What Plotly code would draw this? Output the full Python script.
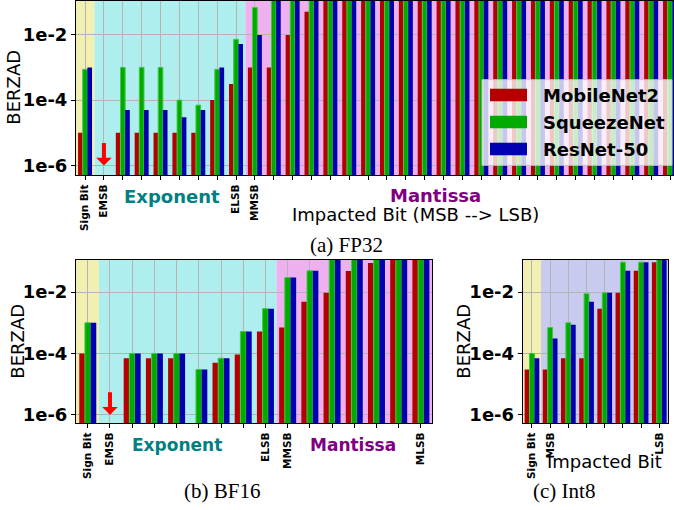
import plotly.graph_objects as go

W, H = 674, 510

series_names = ["MobileNet2", "SqueezeNet", "ResNet-50"]
series_colors = ["#B30000", "#00AA00", "#0000B0"]

FULL = 0.5  # bars clipped at the top of the axes

# ---- FP32 (32 bits) ----
fp32_ticks = {0: "Sign Bit", 1: "EMSB", 8: "ELSB", 9: "MMSB", 31: "MLSB"}
fp32_mobilenet = [1e-5, None, 1e-5, 1e-5, 1e-5, 1e-5, 1e-5, 1e-4, 3.1e-4, 1e-3, 1e-3, 9.7e-3, 5e-2] + [FULL] * 19
fp32_squeezenet = [8.7e-4, None, 1e-3, 1e-3, 1e-3, 1e-4, 7e-5, 8.7e-4, 7.2e-3, 6.8e-2] + [FULL] * 22
fp32_resnet = [1e-3, None, 5e-5, 5e-5, 5e-5, 3e-5, 5e-5, 1e-3, 5.2e-3, 9.8e-3] + [FULL] * 22

# ---- BF16 (16 bits) ----
bf16_ticks = {0: "Sign Bit", 1: "EMSB", 8: "ELSB", 9: "MMSB", 15: "MLSB"}
bf16_mobilenet = [1e-4, None, 7e-5, 7e-5, 7e-5, None, 5e-5, 9.3e-5, 5.2e-4, 7e-4, 4.9e-3, 9.5e-3, 4.9e-2, 9e-2, FULL, FULL]
bf16_squeezenet = [1e-3, None, 1e-4, 1e-4, 1e-4, 3e-5, 7e-5, 5.2e-4, 2.9e-3, 3e-2, 5e-2, FULL, FULL, FULL, FULL, FULL]
bf16_resnet = [1e-3, None, 1e-4, 1e-4, 1e-4, 3e-5, 7e-5, 5.2e-4, 2.9e-3, 3e-2, 5e-2, FULL, FULL, FULL, FULL, FULL]

# ---- Int8 (8 bits) ----
int8_ticks = {0: "Sign Bit", 1: "MSB", 7: "LSB"}
int8_mobilenet = [3e-5, 3e-5, 7e-5, 7e-5, 2.9e-3, 9.5e-3, 5e-2, 9.5e-2]
int8_squeezenet = [1e-4, 7e-4, 1e-3, 8.9e-3, 9.5e-3, 9.5e-2, 9.5e-2, FULL]
int8_resnet = [7e-5, 3.1e-4, 8.7e-4, 4.9e-3, 9.5e-3, 5e-2, 9.5e-2, FULL]

y_tickvals = [1e-6, 1e-4, 1e-2]
y_ticktext = ["1e-6", "1e-4", "1e-2"]

YELLOW = "#F2F0B0"
CYAN = "#AEEEEE"
MAGENTA = "#EEB0EE"
LAVENDER = "#C9CAF0"


def px(x):
    return x / W


def py(y):
    return 1 - y / H


fig = go.Figure()

panels = [
    # (axis suffix, data, ticks, bar width, x domain px, y domain px, x range)
    ("", [fp32_mobilenet, fp32_squeezenet, fp32_resnet], fp32_ticks, 0.247, (76, 674), (1, 176), [-0.48, 31.21]),
    ("2", [bf16_mobilenet, bf16_squeezenet, bf16_resnet], bf16_ticks, 0.255, (76, 432), (261, 425), [-0.53, 15.5]),
    ("3", [int8_mobilenet, int8_squeezenet, int8_resnet], int8_ticks, 0.27, (522.7, 668), (261, 425), [-0.51, 7.48]),
]

layout_axes = {}
for suf, data, ticks, bw, xd, yd, xr in panels:
    n = len(data[0])
    xs = list(range(n))
    for k, (vals, name, col) in enumerate(zip(data, series_names, series_colors)):
        fig.add_trace(go.Bar(
            x=xs, y=vals, name=name, width=bw, offset=(k - 1.5) * bw,
            marker=dict(color=col, line=dict(width=1 if k == 1 else 0, color="#44C844")),
            xaxis="x" + suf, yaxis="y" + suf, showlegend=False,
        ))
    layout_axes["xaxis" + suf] = dict(
        domain=[px(xd[0]), px(xd[1])], range=xr, anchor="y" + suf,
        tickmode="array", tickvals=xs, ticktext=[ticks.get(i, "") for i in xs],
        tickangle=-90, tickfont=dict(family="DejaVu Sans", size=10.5, color="black", weight="bold"),
        ticks="outside", ticklen=4, tickcolor="black",
        showgrid=True, gridcolor="#B4B4B4", gridwidth=1,
        showline=True, linecolor="black", linewidth=1, mirror=True, zeroline=False,
    )
    layout_axes["yaxis" + suf] = dict(
        domain=[py(yd[1]), py(yd[0])], type="log",
        range=[-6.3, -0.97] if suf == "" else [-6.28, -0.95], anchor="x" + suf,
        tickmode="array", tickvals=y_tickvals, ticktext=y_ticktext,
        tickfont=dict(family="DejaVu Sans", size=18, color="black", weight="bold"),
        ticks="outside", ticklen=4, tickcolor="black",
        showgrid=True, gridcolor="#B4B4B4", gridwidth=1,
        showline=True, linecolor="black", linewidth=1, mirror=(suf != ""), zeroline=False,
    )

shapes = []


def band(xa, ya, x0, x1, color):
    shapes.append(dict(type="rect", xref=xa, yref=ya + " domain", x0=x0, x1=x1, y0=0, y1=1,
                       fillcolor=color, line=dict(width=0), layer="below"))


band("x", "y", -1, 0.5, YELLOW)
band("x", "y", 0.5, 8.5, CYAN)
band("x", "y", 8.5, 40, MAGENTA)
band("x2", "y2", -1, 0.5, YELLOW)
band("x2", "y2", 0.5, 8.5, CYAN)
band("x2", "y2", 8.5, 20, MAGENTA)
band("x3", "y3", -1, 0.5, YELLOW)
band("x3", "y3", 0.5, 10, LAVENDER)

annotations = []


def text(x, y, s, size=18, color="black", family="DejaVu Sans", weight="normal", angle=0, xanchor="center"):
    annotations.append(dict(x=px(x), y=py(y), xref="paper", yref="paper", text=s, showarrow=False,
                            textangle=angle, xanchor=xanchor, yanchor="middle",
                            font=dict(family=family, size=size, color=color, weight=weight)))


# axis titles and region labels
text(14, 88, "BERZAD", angle=-90)
text(18, 343, "BERZAD", angle=-90)
text(464, 343, "BERZAD", angle=-90)
text(172, 197, "Exponent", color="#008080", weight="bold")
text(435, 196, "Mantissa", color="#800080", weight="bold")
text(415, 215, "Impacted Bit (MSB --> LSB)")
text(177, 447, "Exponent", size=17, color="#008080", weight="bold")
text(353, 447, "Mantissa", size=17, color="#800080", weight="bold")
text(604, 463, "Impacted Bit")
# captions
text(346, 246, "(a) FP32", size=21, family="Liberation Serif")
text(222, 493, "(b) BF16", size=21, family="Liberation Serif")
text(564, 493, "(c) Int8", size=21, family="Liberation Serif")

# red arrows at EMSB
for xa, ya in [("x", "y"), ("x2", "y2")]:
    annotations.append(dict(x=1, y=-6, xref=xa, yref=ya, ax=0, ay=-24, text="", showarrow=True,
                            arrowhead=1, arrowsize=0.65, arrowwidth=4, arrowcolor="red", standoff=0))

# legend (drawn box)
shapes.append(dict(type="rect", xref="paper", yref="paper", x0=px(482), x1=px(672), y0=py(166), y1=py(80),
                   fillcolor="rgba(255,255,255,0.78)", line=dict(color="rgba(200,200,200,0.9)", width=1),
                   layer="above"))
for i, (name, col) in enumerate(zip(series_names, series_colors)):
    cy = 95.3 + i * 27.1
    shapes.append(dict(type="rect", xref="paper", yref="paper", x0=px(490), x1=px(527),
                       y0=py(cy + 6.3), y1=py(cy - 6.3), fillcolor=col, line=dict(width=0), layer="above"))
    text(541, cy + 1, name, size=18, weight="bold", xanchor="left")

fig.update_layout(
    width=W, height=H, margin=dict(l=0, r=0, t=0, b=0),
    paper_bgcolor="white", plot_bgcolor="white",
    barmode="overlay", shapes=shapes, annotations=annotations, showlegend=False,
    **layout_axes,
)

fig.write_html("out.html", config={"displayModeBar": False},
               post_script="document.body.style.margin='0px';")
